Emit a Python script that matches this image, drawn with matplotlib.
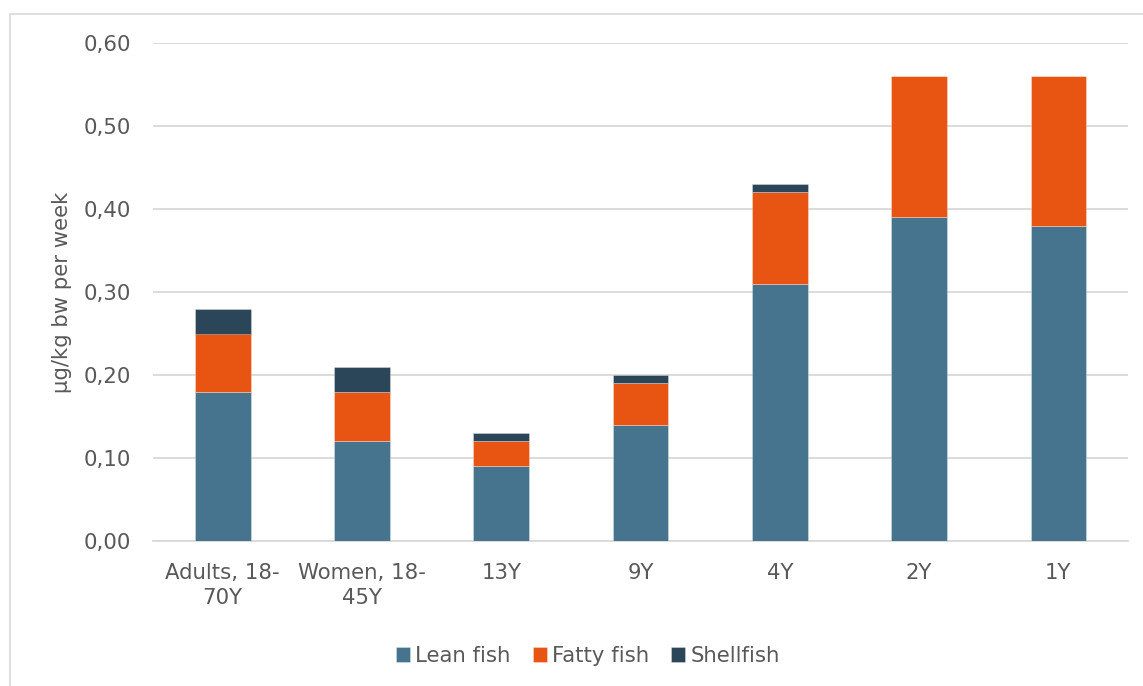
import numpy as np
import matplotlib
matplotlib.use("Agg")
import matplotlib.pyplot as plt
from matplotlib.patches import Rectangle

# ── Data ───────────────────────────────────────────────────
groups     = ["Adults, 18-\n70Y", "Women, 18-\n45Y", "13Y", "9Y", "4Y", "2Y", "1Y"]
lean_fish  = [0.18, 0.12, 0.09, 0.14, 0.31, 0.39, 0.38]
fatty_fish = [0.07, 0.06, 0.03, 0.05, 0.11, 0.17, 0.18]
shellfish  = [0.03, 0.03, 0.01, 0.01, 0.01, 0.00, 0.00]
y_ticks    = [0.0, 0.1, 0.2, 0.3, 0.4, 0.5, 0.6]

C_LEAN  = "#46748F"
C_FATTY = "#E85412"
C_SHELL = "#2C4659"
TXT     = "#595959"
FS      = 15.3

plt.rcParams["font.family"] = ["DejaVu Sans"]

fig = plt.figure(figsize=(11.43, 6.86), dpi=100)
ax = fig.add_axes([153 / 1143, 1 - 541 / 686, (1128 - 153) / 1143, (541 - 43) / 686])

# outer chart frame
fig.patches.append(Rectangle((10 / 1143, -0.05), 1.2, 1 - 14 / 686 + 0.05,
                             transform=fig.transFigure, fill=False,
                             edgecolor="#d9d9d9", lw=1.2))

x = np.arange(len(groups))
lean = np.array(lean_fish)
fatty = np.array(fatty_fish)
shell = np.array(shellfish)
w = 0.40
kw = dict(width=w, edgecolor=(1, 1, 1, 0.35), linewidth=0.6, zorder=3)
ax.bar(x, lean, color=C_LEAN, label="Lean fish", **kw)
ax.bar(x, fatty, bottom=lean, color=C_FATTY, label="Fatty fish", **kw)
ax.bar(x, shell, bottom=lean + fatty, color=C_SHELL, label="Shellfish", **kw)

ax.set_xlim(-0.5, len(groups) - 0.5)
ax.set_ylim(0, 0.6)
ax.set_yticks(y_ticks)
ax.set_yticklabels([f"{v:.2f}".replace(".", ",") for v in y_ticks])
ax.set_xticks(x)
ax.set_xticklabels(groups, linespacing=1.3)
ax.tick_params(axis="both", length=0, labelsize=FS, colors=TXT)
ax.tick_params(axis="y", pad=16)
ax.tick_params(axis="x", pad=16)

ax.grid(axis="y", color="#d9d9d9", lw=1.3, zorder=0)
for s in ["top", "right", "left"]:
    ax.spines[s].set_visible(False)
ax.spines["bottom"].set_color("#d9d9d9")
ax.spines["bottom"].set_linewidth(1.3)

ax.set_ylabel("µg/kg bw per week", fontsize=FS, color=TXT, labelpad=8)

leg = fig.legend(loc="center", bbox_to_anchor=(588 / 1143, 1 - 656 / 686), ncol=3,
                 frameon=False, fontsize=FS, handlelength=0.65, handleheight=0.65,
                 handletextpad=0.25, columnspacing=1.05, labelcolor=TXT)

plt.savefig("out.png", dpi=100)
